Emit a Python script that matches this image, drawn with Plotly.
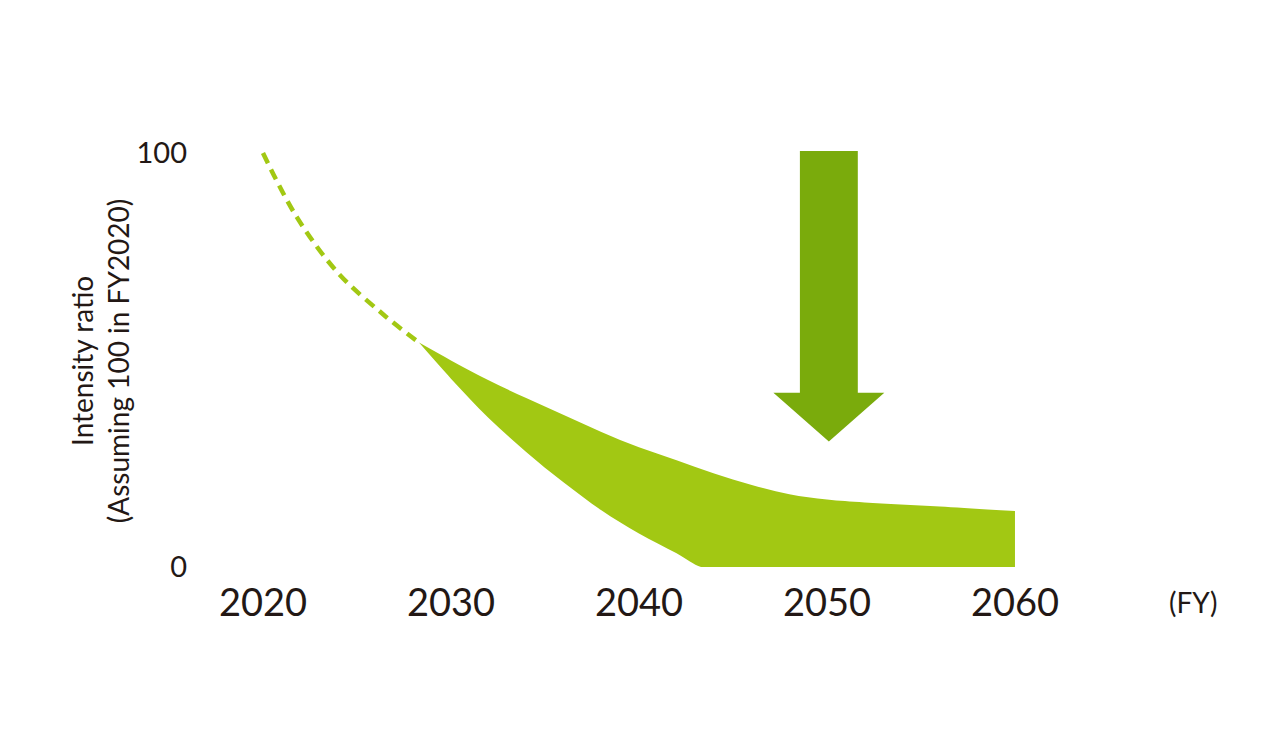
"""
Intensity ratio pathway (FY2020 = 100): dashed past trend, green band to 2060, arrow at 2050
"""

import plotly.graph_objects as go

# dashed trend 2020 -> start of band
trend_years = [2020, 2021.8, 2024, 2026.4, 2028.3]
trend_values = [100, 84.5, 71.0, 61.0, 54.2]

# upper edge of the band
upper_years = [2028.3, 2030, 2032, 2034, 2036, 2038, 2040, 2042, 2044, 2046, 2048, 2050, 2052, 2056, 2060]
upper_values = [54.2, 49.9, 45.1, 40.8, 36.7, 32.6, 28.9, 25.8, 22.6, 19.8, 17.6, 16.3, 15.6, 14.6, 13.5]

# lower edge of the band (reaches zero around 2043)
lower_years = [2028.3, 2030, 2032, 2034, 2036, 2038, 2040, 2042, 2043.3, 2044.0, 2060]
lower_values = [54.2, 45.5, 36.0, 27.8, 20.4, 13.7, 8.1, 3.3, 0, 0, 0]

# down arrow at 2050
arrow_x = [2048.56, 2051.64, 2051.64, 2053.05, 2050.1, 2047.15, 2048.56, 2048.56]
arrow_y = [100.5, 100.5, 42.1, 42.1, 30.3, 42.1, 42.1, 100.5]

x_ticks = [2020, 2030, 2040, 2050, 2060]
y_ticks = [0, 100]

band_color = "#A2C813"
arrow_color = "#7AAB0C"
text_color = "#231815"
font_family = "Lato"

fig = go.Figure()

fig.add_trace(go.Scatter(x=lower_years, y=lower_values, mode="lines", line={"width": 0, "shape": "spline", "smoothing": 1},
                         hoverinfo="skip", showlegend=False))
fig.add_trace(go.Scatter(x=upper_years, y=upper_values, mode="lines", fill="tonexty", fillcolor=band_color,
                         line={"width": 0, "shape": "spline", "smoothing": 1, "color": band_color},
                         hoverinfo="skip", showlegend=False))
fig.add_trace(go.Scatter(x=trend_years, y=trend_values, mode="lines",
                         line={"color": band_color, "width": 4.5, "dash": "11px,7px", "shape": "spline"},
                         hoverinfo="skip", showlegend=False))
fig.add_trace(go.Scatter(x=arrow_x, y=arrow_y, mode="lines", fill="toself", fillcolor=arrow_color,
                         line={"width": 0, "color": arrow_color}, hoverinfo="skip", showlegend=False))

# the page adds an 8px body margin, so margins are 8px smaller than the screen positions
fig.update_layout(
    width=1288,
    height=736,
    margin={"l": 192, "r": 56, "t": 92, "b": 177},
    paper_bgcolor="white",
    plot_bgcolor="white",
    font={"family": font_family, "color": text_color},
    showlegend=False,
    xaxis={"range": [2016.65, 2071.97], "tickvals": x_ticks, "ticktext": [str(v) for v in x_ticks],
           "showgrid": False, "zeroline": False, "showline": False, "ticks": "",
           "tickfont": {"size": 38, "color": text_color}, "ticklabelstandoff": 10, "fixedrange": True},
    yaxis={"range": [0, 112.8], "tickvals": y_ticks, "ticktext": [str(v) for v in y_ticks],
           "showgrid": False, "zeroline": False, "showline": False, "ticks": "",
           "tickfont": {"size": 29, "color": text_color}, "ticklabelstandoff": 12, "fixedrange": True},
)

fig.add_annotation(text="Intensity ratio<br>(Assuming 100 in FY2020)", textangle=-90,
                   xref="paper", yref="paper", x=-0.096, y=0.441, xanchor="center", yanchor="middle",
                   showarrow=False, font={"size": 28, "color": text_color, "family": font_family})
fig.add_annotation(text="(FY)", xref="paper", yref="paper", x=0.955, y=-0.075, xanchor="center", yanchor="middle",
                   showarrow=False, font={"size": 28, "color": text_color, "family": font_family})

fig.write_html("out.html")
